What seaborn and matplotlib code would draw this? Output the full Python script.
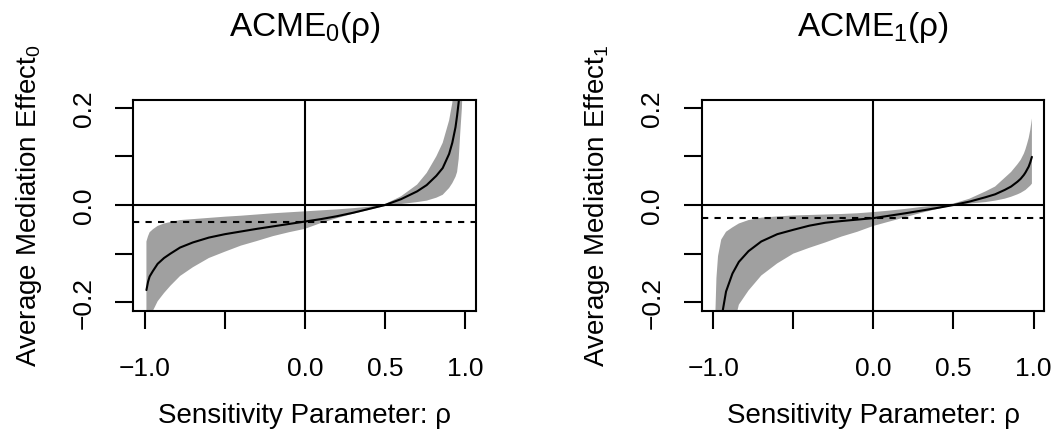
import matplotlib
matplotlib.use("Agg")
import matplotlib.pyplot as plt
import seaborn as sns

# Sensitivity parameter grid
rho = [-0.99, -0.98, -0.97, -0.95, -0.92, -0.88, -0.84, -0.78, -0.70, -0.60,
       -0.50, -0.40, -0.30, -0.20, -0.10, 0.00, 0.10, 0.20, 0.30, 0.40,
       0.50, 0.60, 0.70, 0.76, 0.82, 0.86, 0.90, 0.92, 0.94, 0.95,
       0.96, 0.97, 0.98, 0.99]

# ACME for control condition: point estimate and confidence band
acme0_est = [-0.175, -0.158, -0.147, -0.136, -0.121, -0.109, -0.100, -0.0875, -0.077, -0.067,
             -0.060, -0.0545, -0.049, -0.044, -0.039, -0.034, -0.029, -0.023, -0.016, -0.008,
             0.000, 0.012, 0.028, 0.041, 0.060, 0.076, 0.105, 0.128, 0.160, 0.184,
             0.212, 0.250, 0.310, 0.400]
acme0_hi = [-0.075, -0.064, -0.056, -0.050, -0.043, -0.038, -0.035, -0.031, -0.029, -0.0265,
            -0.024, -0.022, -0.0195, -0.017, -0.015, -0.013, -0.011, -0.009, -0.0065, -0.0035,
            0.002, 0.018, 0.042, 0.066, 0.100, 0.128, 0.174, 0.210, 0.270, 0.300,
            0.350, 0.420, 0.550, 0.750]
acme0_lo = [-0.300, -0.265, -0.240, -0.218, -0.198, -0.181, -0.166, -0.146, -0.128, -0.109,
            -0.096, -0.0835, -0.074, -0.064, -0.056, -0.049, -0.037, -0.027, -0.018, -0.010,
            -0.002, 0.002, 0.006, 0.009, 0.015, 0.021, 0.035, 0.045, 0.058, 0.068,
            0.095, 0.150, 0.200, 0.300]
acme0_point = -0.034

# ACME for treatment condition: point estimate and confidence band
acme1_est = [-0.450, -0.360, -0.300, -0.235, -0.178, -0.141, -0.117, -0.095, -0.075, -0.060,
             -0.051, -0.0425, -0.0365, -0.033, -0.030, -0.027, -0.022, -0.017, -0.0115, -0.006,
             0.000, 0.007, 0.016, 0.022, 0.031, 0.038, 0.048, 0.054, 0.062, 0.067,
             0.073, 0.079, 0.088, 0.099]
acme1_hi = [-0.260, -0.150, -0.105, -0.071, -0.055, -0.046, -0.038, -0.031, -0.026, -0.0235,
            -0.0215, -0.0205, -0.0195, -0.0185, -0.017, -0.0145, -0.0115, -0.008, -0.004, -0.001,
            0.003, 0.013, 0.028, 0.038, 0.056, 0.068, 0.084, 0.093, 0.106, 0.115,
            0.126, 0.138, 0.155, 0.178]
acme1_lo = [-0.800, -0.650, -0.550, -0.450, -0.360, -0.260, -0.205, -0.176, -0.145, -0.120,
            -0.100, -0.088, -0.077, -0.065, -0.055, -0.043, -0.034, -0.025, -0.016, -0.008,
            -0.001, 0.003, 0.006, 0.009, 0.013, 0.017, 0.022, 0.025, 0.029, 0.031,
            0.034, 0.037, 0.040, 0.044]
acme1_point = -0.027

x_ticks = [-1.0, -0.5, 0.0, 0.5, 1.0]
x_ticklabels = ["\u22121.0", "", "0.0", "0.5", "1.0"]
y_ticks = [-0.2, -0.1, 0.0, 0.1, 0.2]
y_ticklabels = ["\u22120.2", "", "0.0", "", "0.2"]

sns.set_style("ticks")
plt.rcParams["font.family"] = ["Liberation Sans", "DejaVu Sans"]
plt.rcParams["mathtext.fontset"] = "custom"
plt.rcParams["mathtext.rm"] = "Liberation Sans"
plt.rcParams["mathtext.it"] = "Liberation Sans:italic"
plt.rcParams["mathtext.default"] = "regular"
plt.rcParams["text.color"] = "black"
plt.rcParams["axes.labelcolor"] = "black"
plt.rcParams["xtick.color"] = "black"
plt.rcParams["ytick.color"] = "black"

LW = 1.5
BAND = "#a0a0a0"

fig = plt.figure(figsize=(10.6, 4.39), dpi=100)
ax0 = fig.add_axes([133.3 / 1060, 1 - 311.5 / 439, 342.7 / 1060, 210.5 / 439])
ax1 = fig.add_axes([701.7 / 1060, 1 - 311.5 / 439, 342.7 / 1060, 210.5 / 439])

panels = [
    (ax0, acme0_est, acme0_lo, acme0_hi, acme0_point,
     r"$\mathrm{ACME}_0$(ρ)", r"Average Mediation $\mathrm{Effect}_0$"),
    (ax1, acme1_est, acme1_lo, acme1_hi, acme1_point,
     r"$\mathrm{ACME}_1$(ρ)", r"Average Mediation $\mathrm{Effect}_1$"),
]

for ax, est, lo, hi, point, title, ylabel in panels:
    ax.fill_between(rho, lo, hi, color=BAND, linewidth=0, zorder=1)
    sns.lineplot(x=rho, y=est, ax=ax, color="black", linewidth=LW, zorder=2)
    ax.axhline(0, color="black", linewidth=LW, zorder=3)
    ax.axvline(0, color="black", linewidth=LW, zorder=3)
    ax.axhline(point, color="black", linewidth=LW, linestyle=(0, (3, 3)), zorder=3)

    ax.set_xlim(-1.072, 1.068)
    ax.set_ylim(-0.217, 0.216)
    ax.set_xticks(x_ticks)
    ax.set_xticklabels(x_ticklabels)
    ax.set_yticks(y_ticks)
    ax.set_yticklabels(y_ticklabels, rotation=90, va="center")
    ax.tick_params(axis="both", direction="out", length=13, width=LW,
                   labelsize=19, color="black", labelcolor="black")
    ax.tick_params(axis="x", pad=19.5)
    ax.tick_params(axis="y", pad=14)
    for sp in ax.spines.values():
        sp.set_visible(True)
        sp.set_linewidth(LW)
        sp.set_color("black")

    ax.set_title(title, fontsize=24, pad=47, color="black")
    ax.set_xlabel("Sensitivity Parameter: ρ", fontsize=20, labelpad=16, color="black")
    ax.set_ylabel(ylabel, fontsize=20, labelpad=20, color="black")

fig.savefig("out.png", dpi=100, facecolor="white")
